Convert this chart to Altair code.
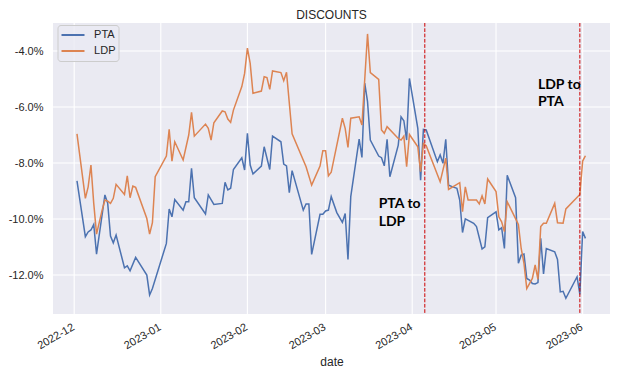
import altair as alt
import pandas as pd

# Day offsets from 2022-12-01 and discount values (%)
BASE = pd.Timestamp("2022-12-01")

pta_days = [1, 4, 5, 6, 7, 8, 11, 12, 13, 14, 15, 18, 19, 20, 22, 26, 27, 28,
            33, 34, 35, 36, 39, 40, 41, 42, 43, 47, 48, 50, 53, 54, 55, 56, 57,
            60, 61, 62, 63, 64, 67, 68, 70, 71, 74, 75, 76, 77, 78, 82, 83, 84,
            85, 88, 89, 90, 91, 92, 94, 96, 97, 98, 99, 102, 103, 104, 105, 106,
            109, 110, 111, 112, 113, 116, 117, 118, 119, 120, 123, 124, 125, 126,
            130, 131, 132, 133, 134, 136, 137, 138, 139, 140, 143, 144, 146, 147,
            148, 151, 152, 153, 154, 155, 158, 159, 160, 161, 162, 163, 164, 165,
            166, 167, 168, 169, 172, 173, 174, 175, 176, 180, 181, 182, 183]
pta_vals = [-8.64, -10.63, -10.46, -10.39, -10.19, -11.25, -9.14, -9.44, -10.61,
            -10.85, -10.57, -11.74, -11.67, -11.85, -11.37, -12.00, -12.71, -12.48,
            -10.87, -9.64, -9.92, -9.30, -9.68, -9.38, -9.38, -8.19, -9.24, -9.82,
            -9.14, -9.48, -9.44, -8.69, -8.96, -8.90, -8.23, -7.81, -8.25, -6.94,
            -8.07, -8.39, -8.11, -7.42, -8.23, -7.04, -7.24, -8.04, -8.10, -9.06,
            -8.27, -9.68, -9.46, -9.46, -11.26, -9.83, -9.83, -9.71, -9.68, -9.20,
            -9.77, -10.12, -9.80, -11.44, -9.20, -7.15, -7.80, -5.15, -5.81, -7.18,
            -7.75, -7.81, -8.10, -7.15, -8.49, -7.36, -6.35, -6.49, -7.18, -4.98,
            -6.76, -8.61, -6.80, -6.82, -7.95, -7.71, -8.01, -7.15, -8.79, -8.87,
            -8.90, -9.32, -10.48, -9.99, -10.15, -10.27, -11.07, -10.99, -9.95,
            -9.74, -10.39, -10.31, -11.05, -8.44, -9.24, -11.58, -11.29, -11.25,
            -12.12, -12.18, -12.30, -12.32, -12.27, -10.69, -11.96, -11.05, -11.17,
            -11.44, -12.60, -12.58, -12.83, -12.06, -12.69, -10.45, -10.69]

ldp_days = [1, 4, 5, 6, 7, 8, 10, 11, 12, 13, 14, 15, 18, 19, 20, 21, 22, 26, 27,
            28, 29, 33, 34, 35, 36, 39, 41, 42, 43, 47, 48, 49, 50, 53, 54, 55, 56,
            57, 60, 61, 62, 63, 64, 67, 68, 69, 70, 71, 74, 75, 76, 78, 83, 85, 88,
            89, 90, 91, 92, 96, 97, 98, 99, 102, 103, 105, 106, 109, 110, 111, 112,
            116, 117, 118, 119, 120, 123, 124, 125, 126, 131, 133, 134, 138, 139,
            140, 141, 144, 145, 146, 147, 148, 151, 152, 153, 154, 155, 159, 160,
            161, 162, 164, 165, 166, 167, 168, 169, 172, 173, 175, 176, 181, 182, 183]
ldp_vals = [-6.96, -9.26, -8.85, -8.07, -9.44, -10.54, -9.68, -9.32, -9.36, -9.44,
            -9.26, -8.76, -9.12, -8.46, -9.24, -8.82, -8.87, -9.98, -10.54, -10.13,
            -8.49, -7.75, -6.80, -7.93, -7.24, -7.89, -7.00, -6.19, -7.04, -6.61,
            -6.76, -7.18, -6.56, -6.14, -6.17, -6.43, -6.55, -6.11, -5.27, -4.80,
            -3.90, -4.44, -5.51, -5.43, -4.92, -4.95, -5.37, -4.71, -4.77, -5.06,
            -4.76, -6.96, -8.13, -8.79, -8.11, -7.56, -7.56, -8.46, -8.33, -6.40,
            -6.76, -7.44, -6.40, -6.35, -6.64, -3.39, -4.77, -5.01, -6.82, -6.94,
            -6.70, -7.12, -7.18, -7.04, -8.13, -6.98, -7.42, -8.31, -7.30, -7.38,
            -8.67, -7.83, -8.94, -8.70, -9.74, -8.85, -9.32, -9.32, -9.46, -9.17,
            -9.46, -8.57, -9.02, -9.92, -10.10, -10.45, -9.38, -10.19, -11.05,
            -11.58, -12.48, -12.12, -11.64, -12.15, -10.27, -10.15, -10.15, -9.44,
            -10.13, -10.15, -9.64, -9.12, -7.93, -7.74]

switch_dates = ["2023-04-05T12:00:00", "2023-05-31T00:00:00"]

note_texts = ["PTA to", "LDP", "LDP to", "PTA"]
note_dates = ["2023-03-20T00:00:00", "2023-03-20T00:00:00",
              "2023-05-16T00:00:00", "2023-05-16T00:00:00"]
note_vals = [-9.59, -10.26, -5.36, -5.98]

y_ticks = [-4, -6, -8, -10, -12]
month_ticks = ["2022-12-01T00:00:00", "2023-01-01T00:00:00", "2023-02-01T00:00:00",
               "2023-03-01T00:00:00", "2023-04-01T00:00:00", "2023-05-01T00:00:00",
               "2023-06-01T00:00:00"]

series_names = ["PTA", "LDP"]
series_colors = ["#4C72B0", "#DD8452"]

df = pd.DataFrame({
    "date": [BASE + pd.Timedelta(days=d) for d in pta_days] +
            [BASE + pd.Timedelta(days=d) for d in ldp_days],
    "value": pta_vals + ldp_vals,
    "series": ["PTA"] * len(pta_days) + ["LDP"] * len(ldp_days),
})
rules_df = pd.DataFrame({"date": switch_dates})
notes_df = pd.DataFrame({"date": note_dates, "value": note_vals, "text": note_texts})
bg_df = pd.DataFrame({"k": [0]})
ygrid_df = pd.DataFrame({"v": y_ticks})
xgrid_df = pd.DataFrame({"d": month_ticks})

FONT = "Liberation Sans"
TXT = "#262626"
BG = "#EAEAF2"

x_scale = alt.Scale(domain=[alt.DateTime(year=2022, month=11, date=23, hours=10),
                            alt.DateTime(year=2023, month=6, date=10, hours=19)])
y_scale = alt.Scale(domain=[-13.39, -3.0], nice=False, zero=False)

x_axis = alt.Axis(values=[alt.DateTime(year=int(s[:4]), month=int(s[5:7]), date=1)
                          for s in month_ticks],
                  format="%Y-%m", labelAngle=330, labelAlign="right", labelBaseline="top",
                  labelOffset=-4, labelPadding=7, title="date", titlePadding=6, grid=False)
y_axis = alt.Axis(values=y_ticks, title=None, labelPadding=10, grid=False,
                  labelExpr="(datum.value < 0 ? '-' : '') + format(abs(datum.value), '.1f') + '%'")

background = alt.Chart(bg_df).mark_rect(color=BG).encode(
    x=alt.value(0), x2=alt.value("width"), y=alt.value(0), y2=alt.value("height"))

ygrid = alt.Chart(ygrid_df).mark_rule(color="white", strokeWidth=1.1).encode(
    y=alt.Y("v:Q", scale=y_scale, axis=y_axis))
xgrid = alt.Chart(xgrid_df).mark_rule(color="white", strokeWidth=1.1).encode(
    x=alt.X("d:T", scale=x_scale, axis=x_axis))

lines = alt.Chart(df).mark_line(strokeWidth=1.5).encode(
    x=alt.X("date:T", scale=x_scale, axis=x_axis),
    y=alt.Y("value:Q", scale=y_scale, axis=y_axis),
    color=alt.Color("series:N",
                    scale=alt.Scale(domain=series_names, range=series_colors),
                    sort=series_names,
                    legend=alt.Legend(title=None, orient="none", legendX=4.5, legendY=2,
                                      symbolType="stroke", symbolSize=529, symbolStrokeWidth=2,
                                      clipHeight=14, rowPadding=2, padding=3, labelOffset=8.6,
                                      fillColor="rgba(234,234,242,0.8)", strokeColor="#cccccc",
                                      cornerRadius=3, labelFont=FONT, labelFontSize=11,
                                      labelColor=TXT)),
    order=alt.Order("date:T"),
)

rules = alt.Chart(rules_df).mark_rule(color="#cc0000", strokeWidth=1,
                                      strokeDash=[3.7, 1.6]).encode(
    x=alt.X("date:T", scale=x_scale))

notes = alt.Chart(notes_df).mark_text(font="Lato", fontWeight="bold", fontSize=14,
                                      align="left", baseline="alphabetic",
                                      color="black").encode(
    x=alt.X("date:T", scale=x_scale),
    y=alt.Y("value:Q", scale=y_scale),
    text="text:N")

chart = alt.layer(background, ygrid, xgrid, lines, rules, notes).properties(
    width=557, height=291,
    autosize=alt.AutoSizeParams(type="none"),
    padding={"left": 45, "top": 15, "right": 4, "bottom": 56},
    title=alt.Title("DISCOUNTS", font=FONT, fontSize=12, fontWeight="normal",
                    color=TXT, anchor="middle", offset=0),
).configure_view(strokeWidth=0).configure_axis(
    domain=False, ticks=False,
    labelFont=FONT, labelFontSize=11, labelColor=TXT,
    titleFont=FONT, titleFontSize=12, titleColor=TXT, titleFontWeight="normal",
)

chart.save("out.html", embed_options={"renderer": "svg", "actions": False})
